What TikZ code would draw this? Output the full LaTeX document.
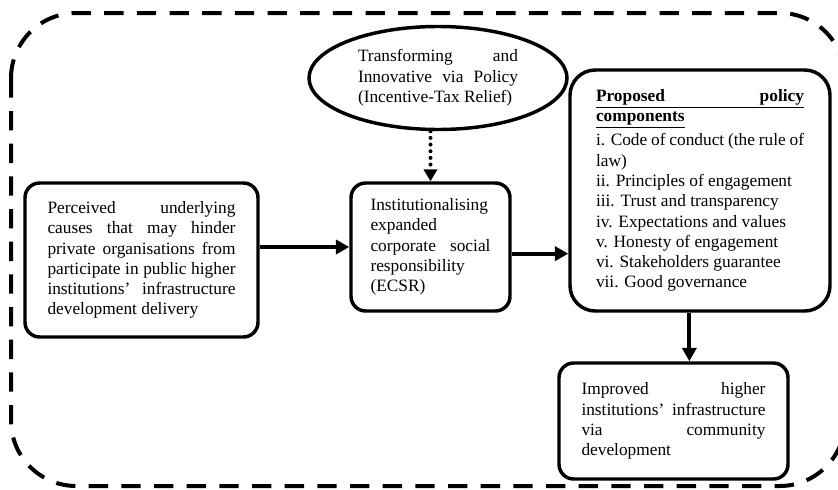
\documentclass[tikz,border=0pt]{standalone}
\usepackage{fontspec}
\setmainfont{Liberation Serif}
\usetikzlibrary{shapes.geometric,arrows.meta}
\hyphenpenalty=10000
\exhyphenpenalty=10000

\tikzset{
  boxtext/.style={font=\fontsize{13}{15.2}\selectfont, align=justify, inner sep=0pt},
  roundbox/.style={boxtext, draw, line width=2.6pt, rounded corners=11pt},
  policyoval/.style={boxtext, ellipse, draw, line width=2.6pt},
  outerline/.style={line width=3pt, dash pattern=on 14.5pt off 10pt, rounded corners=49pt},
  flowarrow/.style={line width=3pt, -{Triangle[length=10pt,width=10.5pt]}},
  dotarrow/.style={line width=3pt, line cap=round, dash pattern=on 0pt off 5pt, -{Triangle[length=9pt,width=10pt]}}
}

\begin{document}
\begin{tikzpicture}[x=0.75pt,y=0.75pt,yscale=-1,xscale=1]
\useasboundingbox (0,0) rectangle (838,489);

%Rounded Rect [id:outer] 
\draw [outerline] (11,13) rectangle (845,486);

% Text Node
\node [roundbox, text width=141pt, minimum width=174.75pt, minimum height=115.5pt] (causes) at (141.5,260) {Perceived underlying causes that may hinder private organisations from participate in public higher institutions’ infrastructure development delivery};
% Text Node
\node [roundbox, text width=90pt, minimum width=119.25pt, minimum height=96pt] (ecsr) at (430.5,247) {Institutionalising expanded corporate social responsibility (ECSR)};
% Text Node
\node [policyoval, text width=120pt, minimum width=193.5pt, minimum height=77.25pt] (policy) at (438,78) {Transforming and Innovative via Policy (Incentive-Tax Relief)};
% Text Node
\node [roundbox, rounded corners=19pt, text width=156pt, minimum width=195pt, minimum height=180.75pt] (comps) at (700,190.5) {\textbf{\underline{\makebox[156pt][s]{Proposed policy}}}\\
\textbf{\underline{components}}\\[3pt]
i. Code of conduct (the rule of law)\\
ii. Principles of engagement\\
iii. Trust and transparency\\
iv. Expectations and values\\
v. Honesty of engagement\\
vi. Stakeholders guarantee\\
vii. Good governance};
% Text Node
\node [roundbox, text width=138pt, minimum width=171.75pt, minimum height=87pt] (improved) at (673.5,421) {Improved higher institutions’ infrastructure via community development};

%Straight Lines
\draw [flowarrow] (causes.east |- ecsr.west) -- (ecsr.west);
\draw [flowarrow] ([yshift=5pt]ecsr.east) -- ([yshift=5pt]ecsr.east -| comps.west);
\draw [dotarrow] (ecsr.north |- policy.south) -- (ecsr.north);
\draw [flowarrow] ([xshift=-8pt]comps.south) -- ([xshift=-8pt]comps.south |- improved.north);
\end{tikzpicture}
\end{document}
